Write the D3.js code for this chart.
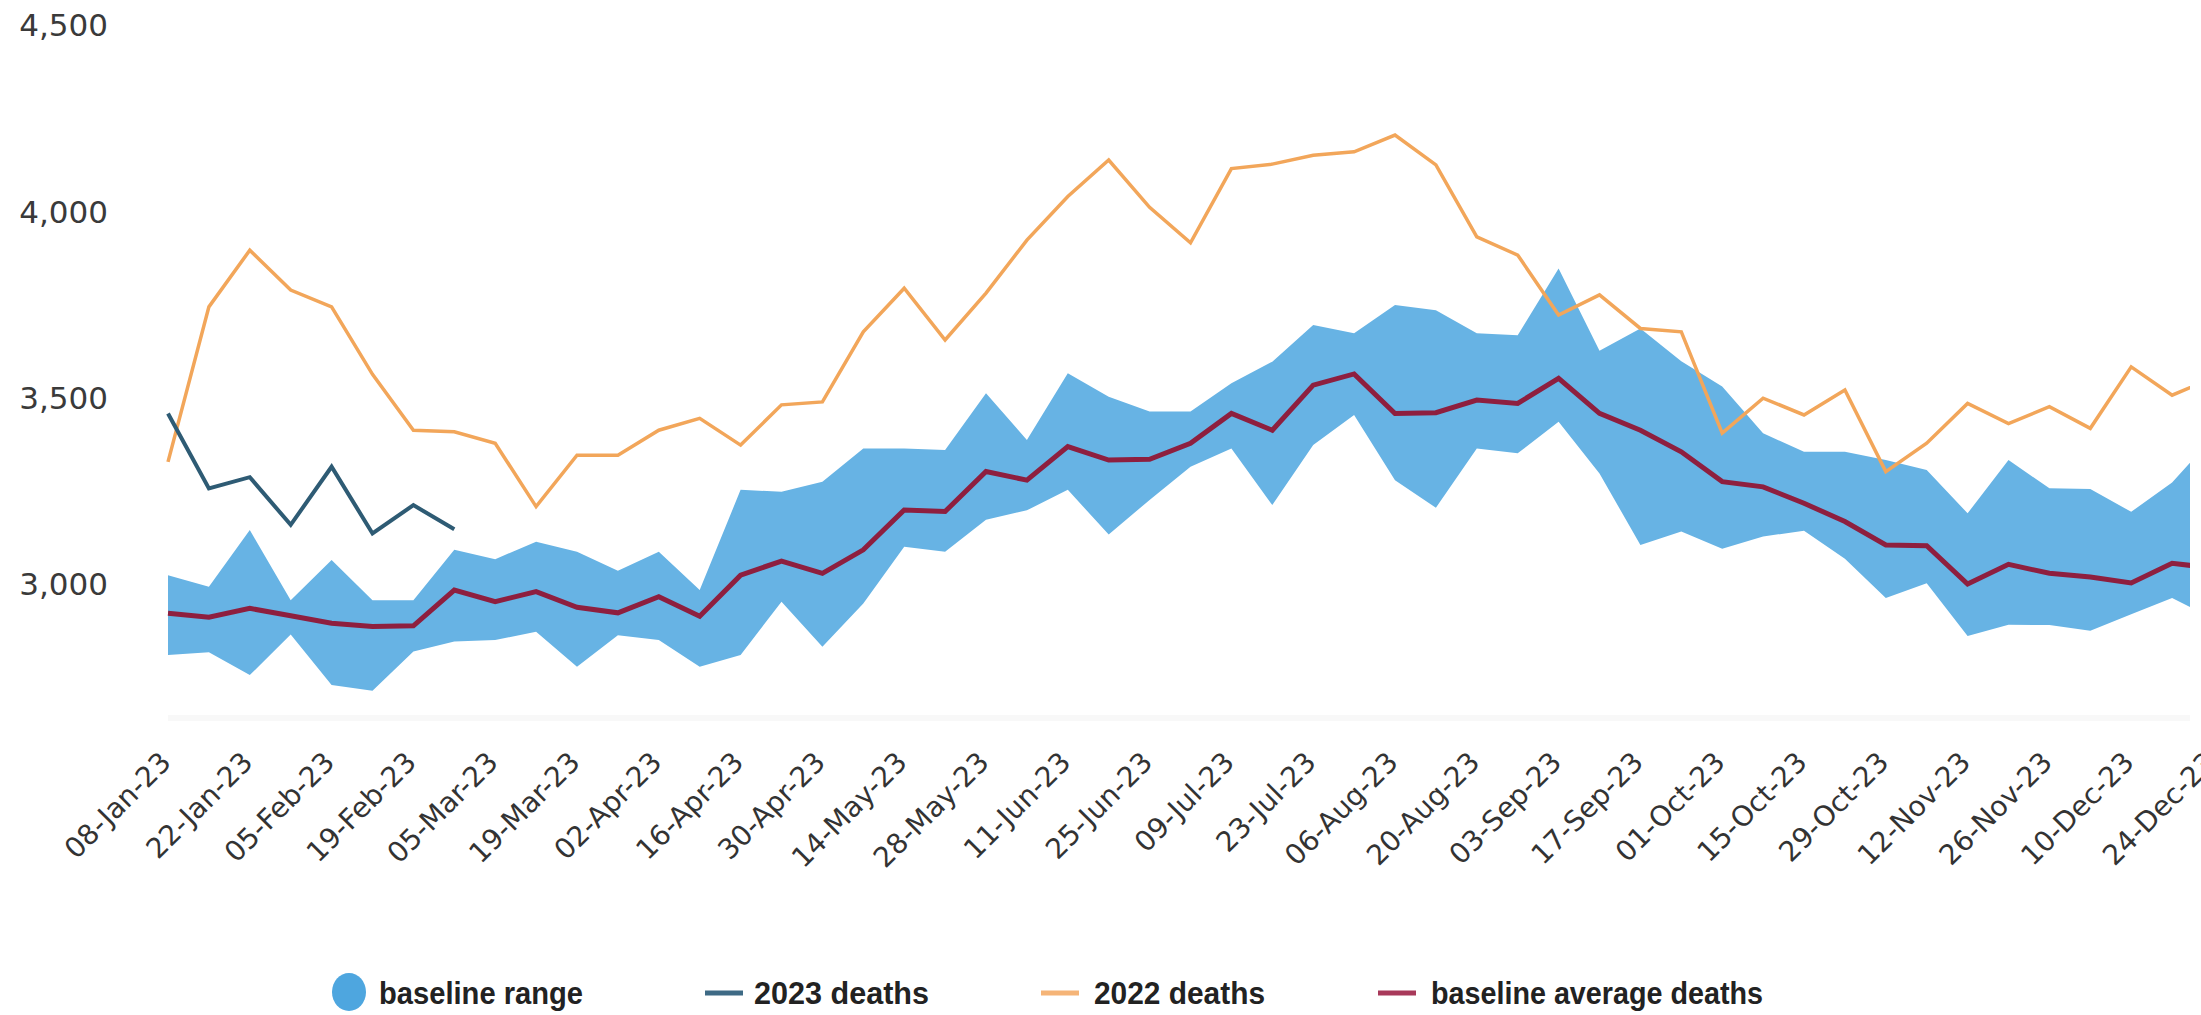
<!DOCTYPE html>
<html>
<head>
<meta charset="utf-8">
<script src="https://cdn.jsdelivr.net/npm/d3@7"></script>
<style>
  body { margin: 0; background: #fff; }
  svg { display: block; }
</style>
</head>
<body>
<div id="chart"></div>
<script>
// weekly categories, 08-Jan-23 .. 24-Dec-23
var fmt = d3.timeFormat("%d-%b-%y");
var weeks = d3.timeSunday.range(new Date(2023, 0, 8), new Date(2023, 11, 25)).map(fmt);

var tickLabels = ["08-Jan-23","22-Jan-23","05-Feb-23","19-Feb-23","05-Mar-23","19-Mar-23",
  "02-Apr-23","16-Apr-23","30-Apr-23","14-May-23","28-May-23","11-Jun-23","25-Jun-23",
  "09-Jul-23","23-Jul-23","06-Aug-23","20-Aug-23","03-Sep-23","17-Sep-23","01-Oct-23",
  "15-Oct-23","29-Oct-23","12-Nov-23","26-Nov-23","10-Dec-23","24-Dec-23"];
var yTicks = [3000, 3500, 4000, 4500];

var rangeLow = [2807,2814,2753,2862,2726,2711,2816,2843,2847,2869,2775,2860,2847,2775,2807,2950,2829,2945,
  3097,3084,3170,3195,3250,3130,3223,3312,3361,3209,3370,3451,3276,3202,3361,3348,3433,3294,3102,3138,
  3092,3125,3140,3065,2960,2999,2858,2888,2887,2872,2916,2960,2905];
var rangeHigh = [3021,2990,3142,2954,3062,2954,2954,3089,3064,3111,3084,3033,3084,2981,3250,3245,3272,3361,
  3361,3357,3509,3384,3563,3500,3460,3460,3536,3594,3692,3670,3746,3732,3670,3665,3844,3623,3683,3595,
  3527,3402,3352,3352,3330,3303,3187,3330,3254,3252,3191,3270,3390];
var baselineAvg = [2919,2908,2932,2912,2892,2883,2885,2981,2950,2977,2935,2920,2963,2911,3021,3059,3026,3089,
  3196,3192,3299,3276,3366,3330,3332,3375,3455,3410,3531,3561,3455,3457,3491,3482,3549,3455,3410,3352,
  3272,3258,3214,3165,3102,3100,2997,3050,3026,3016,3000,3053,3040];
var deaths2022 = [3325,3741,3893,3786,3741,3560,3410,3406,3375,3205,3343,3343,3410,3442,3370,3478,3486,3674,
  3791,3652,3778,3920,4037,4135,4008,3913,4112,4124,4148,4157,4202,4122,3929,3880,3719,3773,3683,3674,
  3402,3496,3451,3518,3299,3375,3482,3428,3473,3415,3580,3504,3550];
var deaths2023 = [3455,3254,3284,3156,3312,3133,3209,3144];

var width = 2201, height = 1015;

var svg = d3.select("#chart")
            .append("svg")
            .attr("width", width)
            .attr("height", height);

var x = d3.scalePoint().domain(weeks).range([168, 2213]);
var y = d3.scaleLinear().domain([3000, 4500]).range([583, 24]);

svg.append("clipPath").attr("id", "plotclip")
   .append("rect").attr("x", 0).attr("y", 0).attr("width", 2190).attr("height", 760);

// very faint bottom line of the plot
svg.append("line")
   .attr("x1", 168).attr("x2", 2190)
   .attr("y1", 718).attr("y2", 718)
   .style("stroke", "#f8f8f8").style("stroke-width", 6);

var plot = svg.append("g").attr("clip-path", "url(#plotclip)");

var area = d3.area()
  .x(function(d, i) { return x(weeks[i]); })
  .y0(function(d, i) { return y(rangeLow[i]); })
  .y1(function(d, i) { return y(rangeHigh[i]); });

plot.append("path")
    .datum(rangeLow)
    .attr("d", area)
    .style("fill", "#67b3e4");

function line(vals) {
  return d3.line()
    .x(function(d, i) { return x(weeks[i]); })
    .y(function(d) { return y(d); })(vals);
}

plot.append("path").attr("d", line(deaths2022))
    .style("fill", "none").style("stroke", "#f2a65a").style("stroke-width", 3.5);
plot.append("path").attr("d", line(baselineAvg))
    .style("fill", "none").style("stroke", "#8e1f3f").style("stroke-width", 5);
plot.append("path").attr("d", line(deaths2023))
    .style("fill", "none").style("stroke", "#2e5b74").style("stroke-width", 4);

// y axis labels
var yAxis = svg.append("g")
  .attr("transform", "translate(108,0)")
  .call(d3.axisLeft(y).tickValues(yTicks).tickFormat(d3.format(",")).tickSize(0).tickPadding(0));
yAxis.select(".domain").remove();
yAxis.selectAll("text")
  .attr("dy", "0.38em")
  .style("font-family", "DejaVu Sans")
  .style("font-size", "31px")
  .style("fill", "#3a3a3a");

// x axis labels, rotated
var xAxis = svg.append("g")
  .attr("transform", "translate(0,764)")
  .call(d3.axisBottom(x).tickValues(tickLabels).tickSize(0));
xAxis.select(".domain").remove();
xAxis.selectAll("text")
  .style("font-family", "DejaVu Sans")
  .style("font-size", "28px")
  .style("fill", "#333")
  .style("text-anchor", "end")
  .attr("x", 0)
  .attr("y", 0)
  .attr("dy", 0)
  .attr("transform", "translate(4,0) rotate(-45)");

// legend
var legend = svg.append("g").style("font-family", "Liberation Sans").style("font-weight", "bold")
  .style("font-size", "32px").style("fill", "#222");

legend.append("ellipse").attr("cx", 349).attr("cy", 992).attr("rx", 17).attr("ry", 19).style("fill", "#4ea6df");

var legendItems = [
  { label: "baseline range", x: 379, w: 204 },
  { label: "2023 deaths", x: 754, w: 175, color: "#3e6a85", mx: 705 },
  { label: "2022 deaths", x: 1094, w: 171, color: "#f5b477", mx: 1041 },
  { label: "baseline average deaths", x: 1431, w: 332, color: "#a8395a", mx: 1378 }
];

legend.selectAll("line.mk")
  .data(legendItems.filter(function(d) { return d.color; }))
  .enter().append("line")
  .attr("x1", function(d) { return d.mx; })
  .attr("x2", function(d) { return d.mx + 38; })
  .attr("y1", 993).attr("y2", 993)
  .style("stroke", function(d) { return d.color; })
  .style("stroke-width", 5);

legend.selectAll("text")
  .data(legendItems)
  .enter().append("text")
  .attr("x", function(d) { return d.x; })
  .attr("y", 1004)
  .attr("textLength", function(d) { return d.w; })
  .attr("lengthAdjust", "spacingAndGlyphs")
  .text(function(d) { return d.label; });
</script>
</body>
</html>
